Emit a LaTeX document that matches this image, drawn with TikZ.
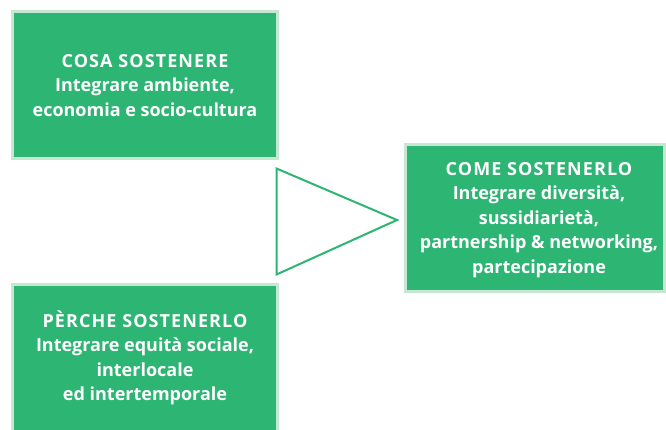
\documentclass[tikz,border=0pt]{standalone}
\usepackage{fontspec}
\setmainfont{Open Sans}
\newfontfamily\headfont[LetterSpace=6]{Open Sans}
\definecolor{boxgreen}{HTML}{2DB573}
\definecolor{edgegreen}{HTML}{C6E8D3}
\begin{document}
\begin{tikzpicture}[x=1pt,y=-1pt,
  greenbox/.style={draw=edgegreen,line width=2.5pt,fill=boxgreen},
  boxtext/.style={text=white,align=center,font=\bfseries\fontsize{18}{24.5}\selectfont,inner sep=0pt}]
\useasboundingbox (0,0) rectangle (666,429);
\path[greenbox] (12.5,11.5) rectangle (277.5,158.5);
\path[greenbox] (405.5,144.5) rectangle (664.5,291.5);
\path[greenbox] (12.5,284.5) rectangle (277.5,440);
\node[boxtext] (cosa) at (145,85.5) {{\headfont COSA SOSTENERE}\\Integrare ambiente,\\economia e socio-cultura};
\node[boxtext] (come) at (539,220) {{\headfont COME SOSTENERLO}\\Integrare diversità,\\sussidiarietà,\\partnership \& networking,\\partecipazione};
\node[boxtext] (perche) at (145,358) {{\headfont PÈRCHE SOSTENERLO}\\Integrare equità sociale,\\interlocale\\ed intertemporale};
\coordinate (t1) at (276.5,168.5);
\coordinate (t2) at (397,220);
\coordinate (t3) at (276.5,274.5);
\draw[boxgreen,line width=2pt,line join=miter] (t1) -- (t2) -- (t3) -- cycle;
\end{tikzpicture}
\end{document}
